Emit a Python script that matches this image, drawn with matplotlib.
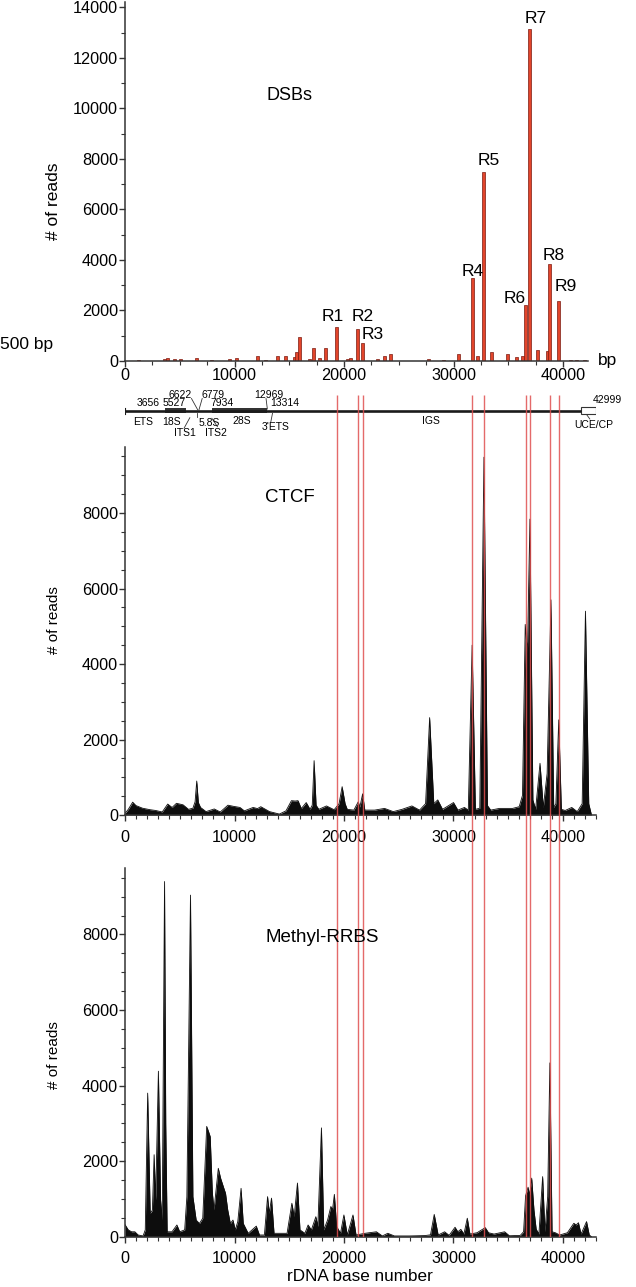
import matplotlib
matplotlib.use("Agg")
import matplotlib.pyplot as plt
import matplotlib.ticker as mticker
from matplotlib.patches import Rectangle

plt.rcParams['font.family'] = ['Liberation Sans', 'DejaVu Sans']

# ---- DSB read counts (bar chart, top) ----
dsb_pos = [1220, 3600, 3900, 4560, 5040, 6530, 7930, 9510, 10220, 12100, 12840,
           13950, 14690, 15470, 15700, 15970, 16870, 17220, 17730, 18330, 20290,
           20590, 23070, 23720, 24230, 27740, 29080, 30490, 32150, 33500, 34900,
           35790, 36300, 37640, 38620, 40710, 41240, 41990]
dsb_reads = [50, 80, 120, 70, 80, 110, 50, 70, 130, 190, 50,
             190, 210, 160, 360, 950, 90, 520, 130, 510, 80,
             120, 70, 210, 290, 80, 50, 280, 210, 350, 290,
             160, 200, 450, 400, 40, 40, 30]

# labelled DSB hotspots
r_names = ['R1', 'R2', 'R3', 'R4', 'R5', 'R6', 'R7', 'R8', 'R9']
r_pos = [19340, 21250, 21700, 31730, 32780, 36600, 36980, 38800, 39630]
r_reads = [1350, 1280, 730, 3280, 7500, 2230, 13150, 3850, 2390]

# ---- CTCF profile ----
ctcf_bp = [0, 300, 700, 1000, 1600, 2300, 2800, 3400, 3900, 4300, 4700, 5300, 5800,
           6200, 6400, 6550, 6700, 6900, 7400, 8150, 8700, 9400, 9900, 10500, 10900,
           11700, 12100, 12400, 13200, 14100, 14700, 15200, 15550, 15800, 16100,
           16550, 16900, 17100, 17270, 17450, 17700, 18400, 19100, 19550, 19830,
           20100, 20300, 20900, 21300, 21450, 21700, 21900, 22800, 23700, 24500,
           25300, 26200, 26900, 27450, 27820, 28200, 28560, 29000, 30000, 30400,
           31000, 31350, 31700, 32000, 32400, 32780, 33100, 33400, 34200, 35400,
           36000, 36300, 36550, 36750, 36980, 37250, 37500, 37900, 38200, 38550,
           38900, 39150, 39350, 39610, 39850, 40200, 40800, 41300, 41750, 42050,
           42350, 42600]
ctcf_reads = [40, 150, 340, 250, 180, 140, 120, 80, 290, 200, 310, 270, 150,
              180, 350, 900, 330, 200, 90, 160, 80, 260, 230, 200, 110,
              200, 170, 220, 90, 25, 110, 380, 370, 380, 170,
              330, 150, 260, 1440, 260, 150, 240, 140, 300, 750,
              300, 150, 130, 350, 210, 560, 130, 130, 175, 90,
              150, 240, 130, 300, 2580, 300, 400, 150, 330, 130,
              200, 130, 4500, 150, 180, 9480, 250, 130, 175, 175,
              220, 520, 5050, 4300, 7840, 400, 150, 1370, 200, 1100,
              5700, 200, 300, 2520, 150, 120, 200, 90, 300, 5400,
              300, 0]

# ---- Methyl-RRBS profile ----
meth_bp = [0, 300, 600, 900, 1200, 1650, 1850, 2070, 2300, 2500, 2660, 2800, 3050,
           3250, 3400, 3610, 3720, 3850, 4290, 4740, 5000, 5450, 5650, 5980, 6200,
           6500, 6800, 7100, 7460, 7620, 7780, 7980, 8130, 8520, 8730, 9030, 9180,
           9380, 9620, 9860, 10070, 10300, 10600, 10800, 11250, 11990, 12280, 12730,
           13020, 13170, 13380, 13610, 14800, 15240, 15450, 15750, 15980, 16430,
           16720, 17020, 17430, 17610, 17940, 18150, 18500, 18800, 18950, 19120,
           19330, 19680, 19990, 20300, 20820, 21100, 21920, 22960, 23500, 24000,
           24600, 26000, 27400, 27900, 28240, 28600, 29190, 29600, 30140, 30400,
           30670, 30950, 31260, 31500, 32150, 32900, 33200, 33700, 34670, 35100,
           36100, 36400, 36580, 36810, 36950, 37140, 37350, 37550, 37800, 38140,
           38350, 38600, 38800, 39000, 39300, 39700, 40400, 40990, 41200, 41410,
           41650, 42150, 42400, 42600]
meth_reads = [320, 180, 130, 130, 45, 20, 180, 3800, 620, 700, 2170, 970, 4380,
              970, 440, 9400, 3000, 130, 130, 310, 130, 180, 1060, 9040, 1060,
              440, 350, 490, 2920, 2790, 2650, 1150, 710, 1810, 1550, 1280, 1150,
              710, 350, 440, 180, 400, 1280, 350, 90, 280, 45, 45,
              1060, 620, 1020, 90, 90, 885, 530, 1420, 180, 90,
              310, 180, 530, 270, 2880, 180, 440, 800, 710, 1120,
              270, 90, 575, 45, 575, 45, 90, 130, 20, 90,
              20, 20, 30, 50, 590, 45, 130, 35, 250, 130,
              195, 70, 490, 70, 105, 240, 105, 70, 130, 25,
              35, 130, 1080, 1310, 1100, 1550, 700, 200, 70, 1590,
              130, 1060, 4600, 130, 105, 45, 105, 355, 310, 370,
              70, 400, 45, 0]

# gene map of the rDNA unit
map_numbers = ['3656', '5527', '6622', '6779', '7934', '12969', '13314', '42999']
rrna_18s = (3656, 5527)
rrna_28s = (7934, 12969)
uce_box = (41600, 42999)

W, H = 636, 1287
PX_PER_BP = 0.01095
X0 = 125
X_RIGHT = X0 + 43000 * PX_PER_BP


def box(x0, y_top, x1, y_bot):
  return [x0 / W, 1 - y_bot / H, (x1 - x0) / W, (y_bot - y_top) / H]


def style_axis(ax, xminor, yminor, xpad):
  for side in ['top', 'right']:
    ax.spines[side].set_visible(False)
  for side in ['left', 'bottom']:
    ax.spines[side].set_linewidth(1.1)
    ax.spines[side].set_color('#333333')
  ax.xaxis.set_major_locator(mticker.MultipleLocator(10000))
  ax.xaxis.set_minor_locator(mticker.MultipleLocator(xminor))
  ax.yaxis.set_major_locator(mticker.MultipleLocator(2000))
  ax.yaxis.set_minor_locator(mticker.MultipleLocator(yminor))
  ax.tick_params(which='major', length=4.5, width=1, color='#333333', labelsize=11.7)
  ax.tick_params(which='minor', length=2.8, width=0.8, color='#333333')
  ax.tick_params(axis='y', which='major', pad=0.5)
  ax.tick_params(axis='x', which='major', pad=xpad)


fig = plt.figure(figsize=(W / 100, H / 100), dpi=100, facecolor='white')

# ---- top: DSBs ----
ax1 = fig.add_axes(box(X0, 361 - 14200 * 0.02526, X0 + 42300 * PX_PER_BP, 361))
ax1.bar(dsb_pos, dsb_reads, width=280, color='#e2452b', edgecolor='#7a1a10', linewidth=0.5)
ax1.bar(r_pos, r_reads, width=280, color='#e2452b', edgecolor='#7a1a10', linewidth=0.5)
ax1.set_xlim(0, 42300)
ax1.set_ylim(0, 14200)
style_axis(ax1, 2500, 1000, 0.3)

# label offsets in pixels (dx, dy) relative to the top of each bar
r_offsets = [(-4, 6), (5, 8), (10, 4), (0, 2), (5, 7), (-11, 2), (6, 6), (4, 4), (7, 10)]
for name, x, y, (dx, dy) in zip(r_names, r_pos, r_reads, r_offsets):
  ax1.annotate(name, (x, y), xytext=(dx, dy), textcoords='offset pixels',
               ha='center', va='baseline', fontsize=12.5)
fig.text(290 / W, 1 - 95 / H, 'DSBs', ha='center', va='center', fontsize=13)
fig.text(54 / W, 1 - 201 / H, '# of reads', rotation=90, ha='center', va='center', fontsize=12.5)
fig.text(0, 1 - 344 / H, '500 bp', ha='left', va='center', fontsize=12.5)
fig.text(598 / W, 1 - 360 / H, 'bp', ha='left', va='center', fontsize=12.5)

# ---- gene map ----
gx = fig.add_axes(box(X0, 385, X_RIGHT, 440))
gx.set_xlim(0, 43000)
gx.set_ylim(440, 385)
gx.axis('off')
LINE_Y = 410.7
gx.plot([0, uce_box[0]], [LINE_Y, LINE_Y], color='#1a1a1a', lw=1.9, solid_capstyle='butt')
gx.plot([0, 0], [407.5, 414], color='#1a1a1a', lw=0.8)
for a, b in [rrna_18s, rrna_28s]:
  gx.add_patch(Rectangle((a, LINE_Y - 2.7), b - a, 5.4, color='#333333', lw=0))
gx.add_patch(Rectangle((uce_box[0], LINE_Y - 3.4), uce_box[1] - uce_box[0], 6.8,
                       facecolor='white', edgecolor='#333333', lw=0.8))

gfs = 7.5
num_spec = [(3200, 403, 'right'), (5500, 403, 'right'), (6070, 395.5, 'right'),
            (6960, 395.5, 'left'), (7840, 403, 'left'), (13100, 395.5, 'center'),
            (13250, 403, 'left'), (42700, 400, 'left')]
for txt, (x, y, ha) in zip(map_numbers, num_spec):
  gx.text(x, y, txt, ha=ha, va='center', fontsize=gfs, clip_on=False)
region_labels = [('ETS', 1630, 421.7, 'center'), ('18S', 4290, 421.7, 'center'),
                 ('5.8S', 6750, 423.3, 'left'), ('ITS1', 5480, 432.7, 'center'),
                 ('ITS2', 8290, 432.7, 'center'), ('28S', 10660, 420.7, 'center'),
                 ("3'ETS", 13760, 426.7, 'center'), ('IGS', 27900, 420.7, 'center'),
                 ('UCE/CP', 42850, 424.5, 'center')]
for txt, x, y, ha in region_labels:
  gx.text(x, y, txt, ha=ha, va='center', fontsize=gfs, clip_on=False)
leaders = [((6070, 398.5), (6650, 410)), ((7050, 398.5), (6750, 410)),
           ((6620, 412.7), (6620, 417.3)), ((5920, 417.7), (5390, 428.3)),
           ((7930, 418.3), (8440, 426.7)), ((12880, 398.5), (13000, 409)),
           ((13470, 413.3), (13320, 421.7)), ((42150, 414.5), (42450, 419))]
for (xa, ya), (xb, yb) in leaders:
  gx.plot([xa, xb], [ya, yb], color='#333333', lw=0.6, clip_on=False)

# ---- CTCF ----
ax2 = fig.add_axes(box(X0, 447, X_RIGHT, 815))
ax2.fill_between(ctcf_bp, ctcf_reads, color='#0d0d0d', lw=0)
ax2.plot(ctcf_bp, ctcf_reads, color='#0d0d0d', lw=0.6)
ax2.set_xlim(0, 43000)
ax2.set_ylim(0, 9750)
style_axis(ax2, 1000, 500, 6)
fig.text(290 / W, 1 - 497 / H, 'CTCF', ha='center', va='center', fontsize=13.5)
fig.text(54 / W, 1 - 620 / H, '# of reads', rotation=90, ha='center', va='center', fontsize=11)

# ---- Methyl-RRBS ----
ax3 = fig.add_axes(box(X0, 868.3, X_RIGHT, 1236.7))
ax3.fill_between(meth_bp, meth_reads, color='#0d0d0d', lw=0)
ax3.plot(meth_bp, meth_reads, color='#0d0d0d', lw=0.6)
ax3.set_xlim(0, 43000)
ax3.set_ylim(0, 9750)
style_axis(ax3, 1000, 500, 6)
ax3.set_xlabel('rDNA base number', fontsize=12.3, labelpad=2)
fig.text(322 / W, 1 - 937 / H, 'Methyl-RRBS', ha='center', va='center', fontsize=13.5)
fig.text(54 / W, 1 - 1055 / H, '# of reads', rotation=90, ha='center', va='center', fontsize=11)

# ---- red guide lines through the lower panels ----
ov = fig.add_axes(box(X0, 395, X_RIGHT, 1236.7))
ov.set_xlim(0, 43000)
ov.set_ylim(0, 1)
ov.axis('off')
ov.patch.set_alpha(0)
ov.vlines(r_pos, 0, 1, color='#e05050', lw=1.0, alpha=0.85)

fig.savefig('out.png', dpi=100, facecolor='white')
